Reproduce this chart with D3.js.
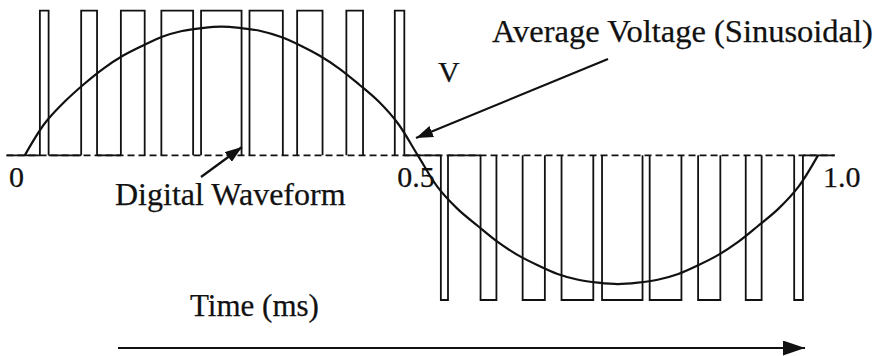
<!DOCTYPE html>
<html>
<head>
<meta charset="utf-8">
<script src="https://cdn.jsdelivr.net/npm/d3@7"></script>
<style>
  html, body { margin: 0; padding: 0; background: #fff; }
  svg { display: block; }
  text { font-family: "Liberation Serif", "Times New Roman", serif; fill: #111; stroke: #111; stroke-width: 0.25px; }
</style>
</head>
<body>
<svg id="chart" width="876" height="356"></svg>
<script>
// ---- data (time in ms, voltage relative to pulse amplitude V) ----
const pulseStart = [0.020, 0.072, 0.122, 0.173, 0.223, 0.284, 0.344, 0.406, 0.467,
                    0.525, 0.575, 0.628, 0.677, 0.728, 0.788, 0.849, 0.909, 0.970];
const pulseEnd   = [0.031, 0.092, 0.152, 0.213, 0.274, 0.326, 0.376, 0.427, 0.479,
                    0.534, 0.595, 0.656, 0.717, 0.779, 0.828, 0.877, 0.929, 0.981];
const pulseLevel = [1, 1, 1, 1, 1, 1, 1, 1, 1,
                    -1, -1, -1, -1, -1, -1, -1, -1, -1];

const avgTime = [0.001, 0.026, 0.051, 0.075, 0.100, 0.125, 0.150, 0.174, 0.199, 0.224,
                 0.249, 0.273, 0.298, 0.323, 0.348, 0.372, 0.397, 0.422, 0.447, 0.471,
                 0.496, 0.521, 0.546, 0.572, 0.597, 0.622, 0.647, 0.672, 0.698, 0.723,
                 0.748, 0.773, 0.798, 0.824, 0.849, 0.874, 0.899, 0.924, 0.950, 0.975,
                 1.000];
const avgVolt = [0, 0.22, 0.37, 0.49, 0.60, 0.69, 0.76, 0.82, 0.86, 0.88,
                 0.89, 0.88, 0.86, 0.82, 0.76, 0.69, 0.60, 0.49, 0.37, 0.22,
                 0, -0.22, -0.37, -0.49, -0.60, -0.69, -0.76, -0.82, -0.86, -0.88,
                 -0.89, -0.88, -0.86, -0.82, -0.76, -0.69, -0.60, -0.49, -0.37, -0.22,
                 0];

const axisExtent = [-0.022, 1.021];         // ms, extent of the zero line
const solidGapAfter = [-1, 0, 1, 8, 9, 17]; // zero-level gaps drawn solid (index of pulse before gap)
const tickValues = [0, 0.5, 1.0];
const tickLabels = ["0", "0.5", "1.0"];

// ---- scales ----
const svg = d3.select("#chart");
const x = d3.scaleLinear().domain([0, 1]).range([24, 818]);
const y = d3.scaleLinear().domain([-1, 1]).range([300, 10.7]);
const ink = "#111";

// arrow markers
const defs = svg.append("defs");
function marker(id, len, wid) {
  defs.append("marker")
    .attr("id", id).attr("viewBox", `0 0 ${len} ${wid}`)
    .attr("refX", len).attr("refY", wid / 2)
    .attr("markerWidth", len).attr("markerHeight", wid)
    .attr("markerUnits", "userSpaceOnUse")
    .attr("orient", "auto")
    .append("path").attr("d", `M0,0L${len},${wid / 2}L0,${wid}Z`).attr("fill", ink);
}
marker("ah", 17, 12);
marker("ahBig", 22, 15);

// dashed zero axis
svg.append("line")
  .attr("x1", x(axisExtent[0])).attr("x2", x(axisExtent[1]))
  .attr("y1", y(0)).attr("y2", y(0))
  .attr("stroke", ink).attr("stroke-width", 1.8)
  .attr("stroke-dasharray", "7,4");

// solid zero-level segments of the waveform
solidGapAfter.forEach(i => {
  const a = i < 0 ? axisExtent[0] : pulseEnd[i];
  const b = i + 1 >= pulseStart.length ? axisExtent[1] : pulseStart[i + 1];
  svg.append("line")
    .attr("x1", x(a)).attr("x2", x(b))
    .attr("y1", y(0)).attr("y2", y(0))
    .attr("stroke", ink).attr("stroke-width", 1.8);
});

// PWM pulses
const pulses = pulseStart.map((s, i) => ({ s, e: pulseEnd[i], v: pulseLevel[i] }));
svg.append("g").selectAll("path").data(pulses).join("path")
  .attr("d", d => `M${x(d.s)},${y(0)}V${y(d.v)}H${x(d.e)}V${y(0)}`)
  .attr("fill", "none").attr("stroke", ink).attr("stroke-width", 1.8);

// average voltage curve
const avgPts = avgTime.map((t, i) => [t, avgVolt[i]]);
svg.append("path")
  .datum(avgPts)
  .attr("d", d3.line().x(d => x(d[0])).y(d => y(d[1])).curve(d3.curveCatmullRom.alpha(0.5)))
  .attr("fill", "none").attr("stroke", ink).attr("stroke-width", 2.2);

// tick labels
const tickAnchor = ["end", "middle", "start"];
const tickDx = [0, -5, 5];
svg.append("g").selectAll("text").data(tickValues).join("text")
  .attr("x", (d, i) => x(d) + tickDx[i])
  .attr("y", 187)
  .attr("text-anchor", (d, i) => tickAnchor[i])
  .attr("font-size", 30)
  .text((d, i) => tickLabels[i]);

// annotations
svg.append("text").attr("x", 492).attr("y", 42).attr("font-size", 32.5)
  .text("Average Voltage (Sinusoidal)");
svg.append("line")
  .attr("x1", 608).attr("y1", 59).attr("x2", 416).attr("y2", 138)
  .attr("stroke", ink).attr("stroke-width", 2.2).attr("marker-end", "url(#ah)");

svg.append("text").attr("x", 438).attr("y", 82).attr("font-size", 30).text("V");

svg.append("text").attr("x", 115).attr("y", 205).attr("font-size", 32)
  .text("Digital Waveform");
svg.append("line")
  .attr("x1", 201).attr("y1", 177).attr("x2", 242).attr("y2", 147)
  .attr("stroke", ink).attr("stroke-width", 2.2).attr("marker-end", "url(#ah)");

svg.append("text").attr("x", 190).attr("y", 316).attr("font-size", 31)
  .text("Time (ms)");
svg.append("line")
  .attr("x1", 118).attr("y1", 348).attr("x2", 805).attr("y2", 348)
  .attr("stroke", ink).attr("stroke-width", 2).attr("marker-end", "url(#ahBig)");
</script>
</body>
</html>
